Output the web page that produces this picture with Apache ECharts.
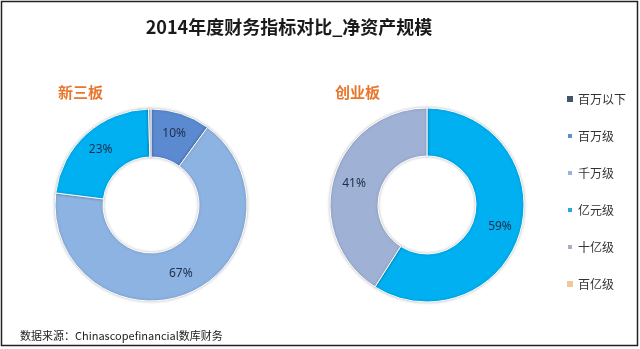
<!DOCTYPE html>
<html>
<head>
<meta charset="utf-8">
<script src="https://cdn.jsdelivr.net/npm/echarts@6/dist/echarts.min.js"></script>
<style>
html,body{margin:0;padding:0;background:#fff;}
#c{width:640px;height:349px;}
</style>
</head>
<body>
<div id="c"></div>
<script>
const categories = ['百万以下', '百万级', '千万级', '亿元级', '十亿级', '百亿级'];
const neeqValues = [0, 10, 67, 22.6, 0.4, 0];   // 新三板
const chinextValues = [0, 0, 0, 59, 41, 0];     // 创业板
const sliceColors = ['#44546a', '#5b8ad1', '#8db3e2', '#00b0f0', '#9fb1d5', '#f4c99b'];
const legendColors = ['#44546a', '#5b8fcf', '#9ab3d8', '#2ea8d8', '#a9aec0', '#f0c99a'];
const mainTitle = '2014年度财务指标对比_净资产规模';
const subTitles = ['新三板', '创业板'];
const sourceText = '数据来源：Chinascopefinancial数库财务';

function buildData(values) {
  return values.map((v, i) => ({
    name: categories[i], value: v,
    itemStyle: v > 0 ? { color: sliceColors[i] } : { color: sliceColors[i], borderWidth: 0, shadowBlur: 0, opacity: 0 }
  }));
}

const labelCfg = {
  show: true,
  position: 'inside',
  color: '#1f2d4a',
  fontSize: 12,
  fontFamily: 'Noto Sans, sans-serif',
  formatter: p => (p.percent < 2 ? '' : Math.round(p.percent) + '%')
};
const itemCfg = { borderColor: '#ffffff', borderWidth: 1, shadowBlur: 3, shadowColor: 'rgba(0,0,0,0.25)' };

const chart = echarts.init(document.getElementById('c'));
chart.setOption({
  animation: false,
  backgroundColor: '#ffffff',
  title: [
    { text: mainTitle, left: 284, top: 13, textAlign: 'center',
      textStyle: { fontSize: 18, fontWeight: 'bold', color: '#1a1a1a', fontFamily: 'Noto Sans CJK SC' } },
    { text: subTitles[0], left: 53, top: 80,
      textStyle: { fontSize: 15, fontWeight: 'bold', color: '#e8772e', fontFamily: 'Noto Sans CJK SC' } },
    { text: subTitles[1], left: 330, top: 80,
      textStyle: { fontSize: 15, fontWeight: 'bold', color: '#e8772e', fontFamily: 'Noto Sans CJK SC' } }
  ],
  legend: {
    orient: 'vertical',
    left: 561,
    top: 88,
    itemWidth: 6,
    itemHeight: 6,
    itemGap: 25,
    icon: 'rect',
    textStyle: { fontSize: 12, color: '#333', fontFamily: 'Noto Sans CJK SC' },
    data: categories.map((c, i) => ({ name: c, itemStyle: { color: legendColors[i], opacity: 1 } }))
  },
  graphic: [
    { type: 'rect', shape: { x: 1.5, y: 1.5, width: 636, height: 344 },
      style: { fill: 'none', stroke: '#222', lineWidth: 1.5 }, silent: true },
    { type: 'text', left: 20, top: 330,
      style: { text: sourceText, fontSize: 11, fill: '#222', fontFamily: 'Noto Sans CJK SC' } }
  ],
  series: [
    { type: 'pie', name: subTitles[0], center: [151, 205], radius: [48, 96],
      startAngle: 90, clockwise: true, avoidLabelOverlap: false,
      label: labelCfg, labelLine: { show: false }, itemStyle: itemCfg,
      data: buildData(neeqValues) },
    { type: 'pie', name: subTitles[1], center: [427, 205], radius: [49, 97],
      startAngle: 90, clockwise: true, avoidLabelOverlap: false,
      label: labelCfg, labelLine: { show: false }, itemStyle: itemCfg,
      data: buildData(chinextValues) }
  ]
});
</script>
</body>
</html>
